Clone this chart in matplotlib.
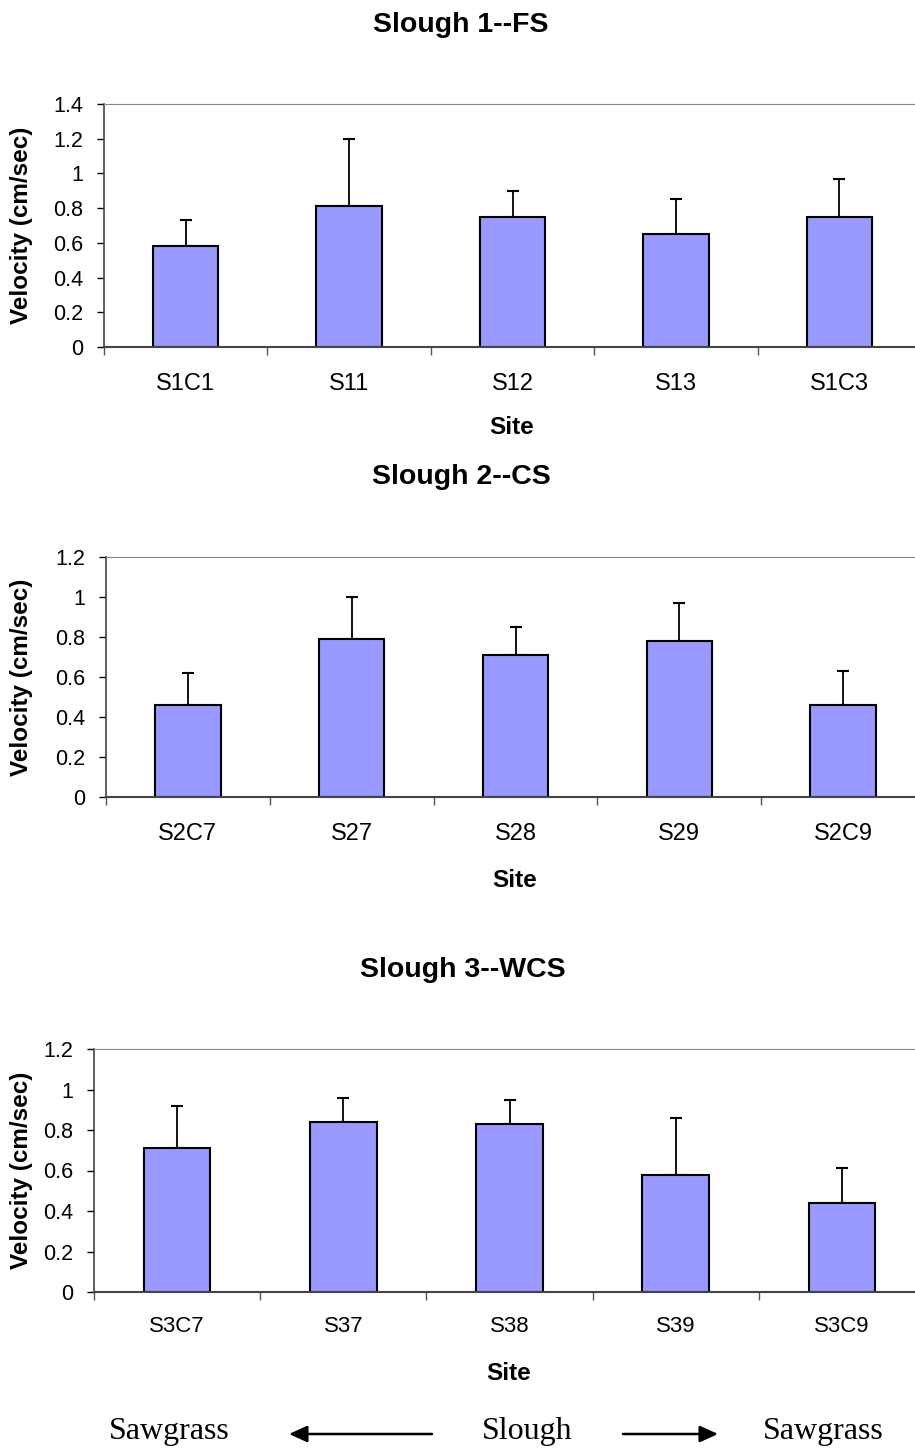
import matplotlib
matplotlib.use("Agg")
import matplotlib.pyplot as plt
from matplotlib.patches import FancyArrowPatch
from matplotlib.ticker import FixedLocator, NullFormatter, FixedFormatter

W, H = 915, 1451

# data
sites1 = ["S1C1", "S11", "S12", "S13", "S1C3"]
vel1 = [0.58, 0.81, 0.75, 0.65, 0.75]
err1 = [0.15, 0.39, 0.15, 0.20, 0.22]

sites2 = ["S2C7", "S27", "S28", "S29", "S2C9"]
vel2 = [0.46, 0.79, 0.71, 0.78, 0.46]
err2 = [0.16, 0.21, 0.14, 0.19, 0.17]

sites3 = ["S3C7", "S37", "S38", "S39", "S3C9"]
vel3 = [0.71, 0.84, 0.83, 0.58, 0.44]
err3 = [0.21, 0.12, 0.12, 0.28, 0.17]

titles = ["Slough 1--FS", "Slough 2--CS", "Slough 3--WCS"]
ymax = [1.4, 1.2, 1.2]

SANS = ["Liberation Sans", "DejaVu Sans"]
SERIF = ["Liberation Serif", "DejaVu Serif"]
plt.rcParams["font.family"] = SANS

fig = plt.figure(figsize=(W / 100, H / 100), dpi=100)


def fx(px):
    return px / W


def fy(py):
    return 1 - py / H


# axes boxes in pixels: left, right, top, bottom
boxes = [(104, 921, 104, 347), (106, 925, 557, 797), (94, 925, 1049, 1292)]
title_y = [25, 477, 970]
site_y = [427, 880, 1373]
xtick_size = [17, 17, 16]
xtick_pad = [19, 19, 17]


def draw_panel(i, sites, vel, err):
    l, r, t, b = boxes[i]
    ax = fig.add_axes([fx(l), fy(b), fx(r) - fx(l), fy(t) - fy(b)])
    xs = list(range(len(sites)))
    ax.bar(xs, vel, width=0.4, color="#9999FF", edgecolor="black", linewidth=1.5, zorder=2)
    ax.errorbar(xs, vel, yerr=[[0] * len(err), err], fmt="none", ecolor="black",
                elinewidth=1.3, capsize=4.5, capthick=1.5, zorder=1)
    ax.set_xlim(-0.5, len(sites) - 0.5)
    ax.set_ylim(0, ymax[i])
    yt = [k / 10 for k in range(0, int(round(ymax[i] * 10)) + 1, 2)]
    ax.set_yticks(yt)
    ax.set_yticklabels(["%g" % v for v in yt])
    ax.xaxis.set_major_locator(FixedLocator([k - 0.5 for k in range(len(sites) + 1)]))
    ax.xaxis.set_major_formatter(NullFormatter())
    ax.xaxis.set_minor_locator(FixedLocator(xs))
    ax.xaxis.set_minor_formatter(FixedFormatter(sites))
    ax.tick_params(axis="x", which="major", direction="out", length=6, width=1, color="#555555")
    ax.tick_params(axis="x", which="minor", length=0, pad=xtick_pad[i], labelsize=xtick_size[i])
    ax.tick_params(axis="y", direction="out", length=5, width=1, pad=10, labelsize=15.5)
    ax.spines["top"].set_color("#888888")
    ax.spines["right"].set_visible(False)
    ax.spines["left"].set_color("#444444")
    ax.spines["bottom"].set_color("#444444")
    ax.spines["left"].set_linewidth(1.2)
    ax.spines["bottom"].set_linewidth(1.5)

    fig.text(fx(461 if i < 2 else 463), fy(title_y[i]), titles[i], ha="center", va="center",
             fontsize=20.5, fontweight="bold")
    fig.text(fx((l + r) / 2 - 1), fy(site_y[i]), "Site", ha="center", va="center",
             fontsize=17.5, fontweight="bold")
    fig.text(fx(22), fy((t + b) / 2), "Velocity (cm/sec)", ha="center", va="center",
             rotation=90, fontsize=17.5, fontweight="bold")
    return ax


draw_panel(0, sites1, vel1, err1)
draw_panel(1, sites2, vel2, err2)
draw_panel(2, sites3, vel3, err3)

# gradient labels along the bottom
yb = 1432
fig.text(fx(169), fy(yb), "Sawgrass", ha="center", va="center", fontsize=23, family=SERIF)
fig.text(fx(527), fy(yb), "Slough", ha="center", va="center", fontsize=23, family=SERIF)
fig.text(fx(823), fy(yb), "Sawgrass", ha="center", va="center", fontsize=23, family=SERIF)
arrow = dict(arrowstyle="-|>,head_length=1.1,head_width=0.5", mutation_scale=10,
             color="black", lw=1.8, shrinkA=0, shrinkB=0, transform=fig.transFigure)
fig.add_artist(FancyArrowPatch((fx(432), fy(1434)), (fx(289), fy(1434)), **arrow))
fig.add_artist(FancyArrowPatch((fx(623), fy(1434)), (fx(718), fy(1434)), **arrow))

fig.savefig("out.png", dpi=100)
